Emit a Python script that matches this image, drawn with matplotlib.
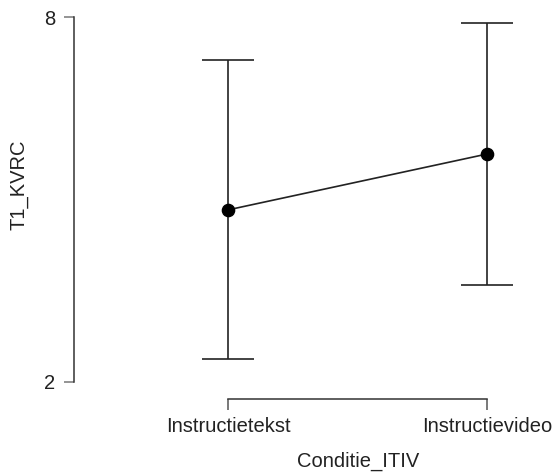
import matplotlib
matplotlib.use("Agg")
import matplotlib.pyplot as plt
import numpy as np

categories = ["Instructietekst", "Instructievideo"]
means = [4.83, 5.75]
lower = [2.38, 3.59]
upper = [7.29, 7.90]
y_ticks = [2, 8]

plt.rcParams['font.family'] = ['Liberation Sans', 'DejaVu Sans']

W, H = 555, 475
fig = plt.figure(figsize=(W / 100, H / 100), dpi=100)

# pixel layout
left_px, right_px, top_px, bottom_px = 73.5, 545, 10, 399
ax = fig.add_axes([left_px / W, (H - bottom_px) / H,
                   (right_px - left_px) / W, (bottom_px - top_px) / H])

x0_px, x1_px = 228.3, 487.3
y8_px, y2_px = 17.3, 381.7
ppx = (x1_px - x0_px)
ppy = (y2_px - y8_px) / 6.0
ax.set_xlim((left_px - x0_px) / ppx, (right_px - x0_px) / ppx)
ax.set_ylim(8 - (bottom_px - y8_px) / ppy, 8 - (top_px - y8_px) / ppy)

x = np.arange(len(categories))
means_a = np.array(means)
yerr = np.vstack([means_a - np.array(lower), np.array(upper) - means_a])

ax.errorbar(x, means_a, yerr=yerr, fmt='none', ecolor='#222222',
            elinewidth=1.2, capsize=18.5, capthick=1.2, zorder=2)
ax.plot(x, means_a, color='#222222', lw=1.2, zorder=3)
ax.plot(x, means_a, 'o', color='black', ms=8.8, zorder=4)

for s in ['top', 'right']:
    ax.spines[s].set_visible(False)
ax.spines['left'].set_bounds(2, 8)
ax.spines['bottom'].set_bounds(0, 1)
for s in ['left', 'bottom']:
    ax.spines[s].set_color('#333333')
    ax.spines[s].set_linewidth(1.1)

fs = 14.5
ax.set_yticks(y_ticks)
ax.set_yticklabels([str(v) for v in y_ticks])
ax.set_xticks(x)
ax.set_xticklabels(categories)
ax.tick_params(axis='y', length=7.5, width=1.1, color='#777777', pad=5.5,
               labelsize=fs, labelcolor='#222222')
ax.tick_params(axis='x', length=8, width=1.1, color='#555555', pad=5,
               labelsize=fs, labelcolor='#222222')

ax.set_ylabel("T1_KVRC", fontsize=fs, color='#222222', va='center')
ax.set_xlabel("Conditie_ITIV", fontsize=fs, color='#222222', va='center')
ax.xaxis.set_label_coords((358 - left_px) / (right_px - left_px), -(461 - bottom_px) / (bottom_px - top_px))
ax.yaxis.set_label_coords(-(left_px - 19) / (right_px - left_px), (bottom_px - 185) / (bottom_px - top_px))

fig.savefig("out.png", dpi=100)
